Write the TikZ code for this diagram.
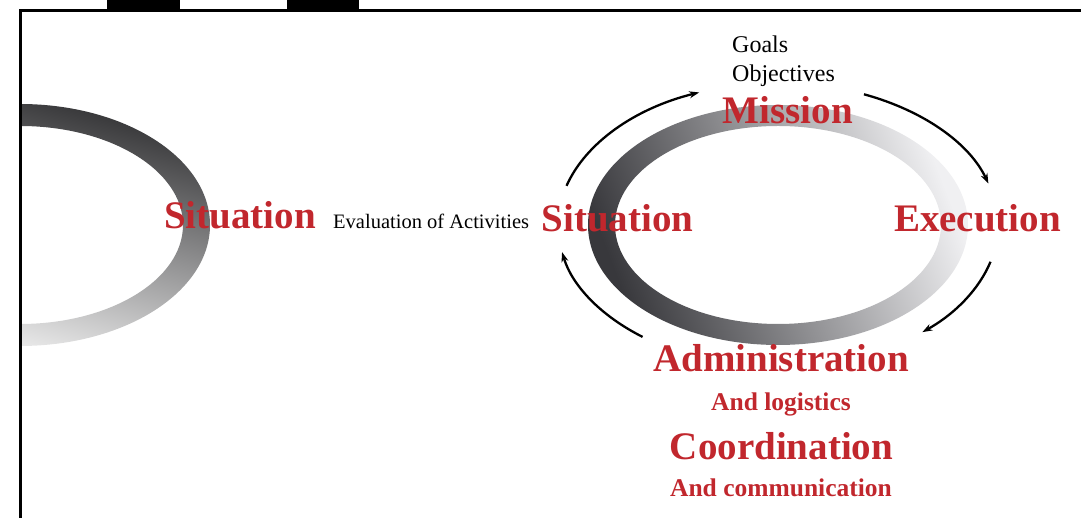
\documentclass[tikz,border=0pt]{standalone}
\usepackage{fontspec}
\setmainfont{Liberation Serif}
\usetikzlibrary{calc,arrows.meta}
\definecolor{hred}{RGB}{193,39,45}
\definecolor{ringdark}{RGB}{56,56,60}
\definecolor{ringlight}{RGB}{240,240,242}
\definecolor{ringdarkl}{RGB}{52,52,54}
\definecolor{ringlightl}{RGB}{246,246,246}
\tikzset{
  head/.style={text=hred,font=\bfseries\fontsize{39}{39}\selectfont,inner sep=0pt,anchor=base},
  subhead/.style={text=hred,font=\bfseries\fontsize{25.5}{25.5}\selectfont,inner sep=0pt,anchor=base},
  plain/.style={text=black,font=\fontsize{24}{24}\selectfont,inner sep=0pt,anchor=base west},
  cyc/.style={line width=2.3pt,-{Stealth[length=10pt,width=7pt]}},
  frameline/.style={line width=2.4pt,black}
}
\begin{document}
\begin{tikzpicture}[x=1pt,y=1pt]
\useasboundingbox (0,0) rectangle (1081,518);
\coordinate (rc) at (778,293);
\coordinate (lc) at (20,293);
% rings
\begin{scope}
\clip (20.5,0) rectangle (1081,507.5);
\shade[even odd rule,top color=ringdarkl,bottom color=ringlightl,shading angle=-15]
  (lc) ellipse[x radius=190pt,y radius=121pt] (lc) ellipse[x radius=163pt,y radius=99pt];
\end{scope}
\shade[even odd rule,top color=ringdark,bottom color=ringlight,shading angle=111]
  (rc) ellipse[x radius=190pt,y radius=120pt] (rc) ellipse[x radius=163pt,y radius=99pt];
% frame
\fill[black] (107,507.5) rectangle (180,518);
\fill[black] (287,507.5) rectangle (359,518);
\draw[frameline] (20.5,0) -- (20.5,507.5) -- (1081,507.5);
% cycle arrows
\draw[cyc] ($(rc)+(164:220pt and 142pt)$) arc[start angle=164,end angle=111,x radius=220pt,y radius=142pt];
\draw[cyc] ($(rc)+(67:220pt and 142pt)$) arc[start angle=67,end angle=17,x radius=220pt,y radius=142pt];
\draw[cyc] ($(rc)+(-15:220pt and 142pt)$) arc[start angle=-15,end angle=-49,x radius=220pt,y radius=142pt];
\draw[cyc] ($(rc)+(232:220pt and 142pt)$) arc[start angle=232,end angle=191,x radius=220pt,y radius=142pt];
% texts
\node[plain] (goals) at (732,465) {Goals};
\node[plain] (obj) at (732,436) {Objectives};
\node[head] (mission) at (788,394) {Mission};
\node[head] (sitl) at (240,289) {Situation};
\node[plain,font=\fontsize{20.5}{20.5}\selectfont] (eval) at (333,289) {Evaluation of Activities};
\node[head] (sitr) at (617.5,286) {Situation};
\node[head] (exec) at (977.5,286) {Execution};
\node[head] (admin) at (781,146) {Administration};
\node[subhead] (logi) at (781,107) {And logistics};
\node[head] (coord) at (781.5,58) {Coordination};
\node[subhead] (comm) at (781,21) {And communication};
\end{tikzpicture}
\end{document}
